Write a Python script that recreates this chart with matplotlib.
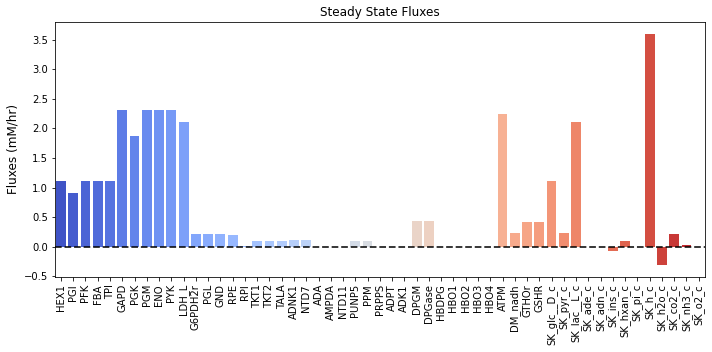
import matplotlib
matplotlib.use("Agg")
import matplotlib.pyplot as plt
import seaborn as sns
import numpy as np

reactions = ["HEX1", "PGI", "PFK", "FBA", "TPI", "GAPD", "PGK", "PGM", "ENO", "PYK",
             "LDH_L", "G6PDH2r", "PGL", "GND", "RPE", "RPI", "TKT1", "TKT2", "TALA",
             "ADNK1", "NTD7", "ADA", "AMPDA", "NTD11", "PUNP5", "PPM", "PRPPS", "ADPT",
             "ADK1", "DPGM", "DPGase", "HBDPG", "HBO1", "HBO2", "HBO3", "HBO4", "ATPM",
             "DM_nadh", "GTHOr", "GSHR", "SK_glc__D_c", "SK_pyr_c", "SK_lac__L_c",
             "SK_ade_c", "SK_adn_c", "SK_ins_c", "SK_hxan_c", "SK_pi_c", "SK_h_c",
             "SK_h2o_c", "SK_co2_c", "SK_nh3_c", "SK_o2_c"]
fluxes = [1.12, 0.91, 1.11, 1.11, 1.11, 2.31, 1.87, 2.31, 2.31, 2.31,
          2.10, 0.21, 0.21, 0.21, 0.20, 0.01, 0.10, 0.10, 0.10,
          0.12, 0.12, 0.0, 0.0, 0.0, 0.10, 0.10, 0.0, 0.0,
          0.0, 0.43, 0.43, 0.0, 0.0, 0.0, 0.0, 0.0, 2.24,
          0.24, 0.42, 0.42, 1.12, 0.24, 2.10,
          -0.01, 0.0, -0.07, 0.10, 0.0, 3.60,
          -0.30, 0.21, 0.03, 0.0]

fig = plt.figure(figsize=(712/72, 352/72), dpi=72)
ax = fig.add_axes([0.077, 0.213, 0.913, 0.725])

sns.barplot(x=reactions, y=fluxes, hue=reactions, palette="coolwarm",
            saturation=1, legend=False, ax=ax)
ax.axhline(0, color="black", linestyle="--", linewidth=1.8, alpha=0.85)
ax.set_ylim(-0.51, 3.8)
ax.set_title("Steady State Fluxes")
ax.set_ylabel("Fluxes (mM/hr)", fontsize=12)
ax.tick_params(axis="x", rotation=90)

fig.savefig("out.png", dpi=72)
